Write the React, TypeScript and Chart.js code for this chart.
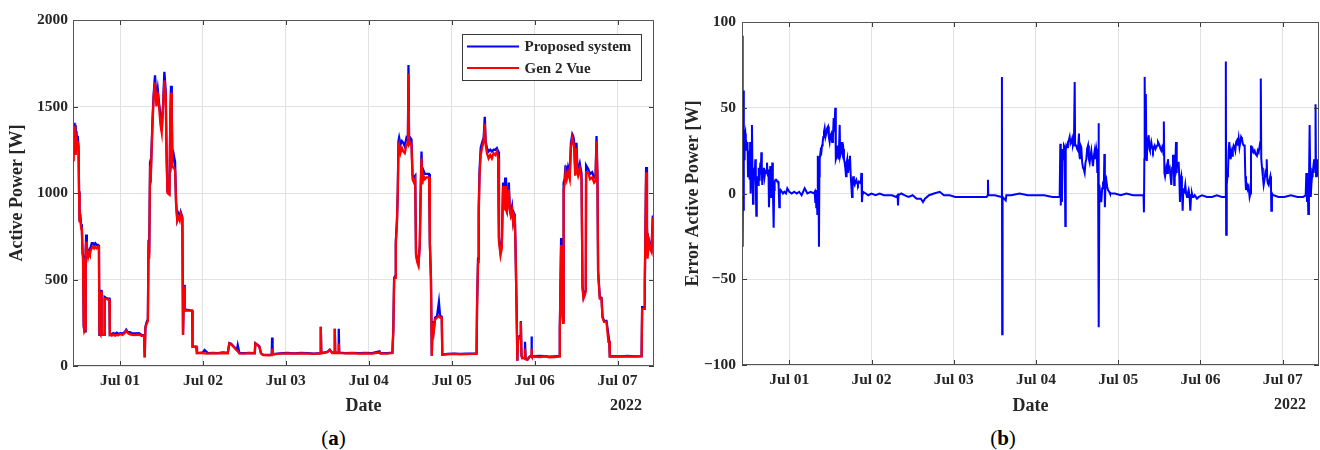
import React, { useEffect, useRef } from 'react';
import { Chart, registerables } from 'chart.js';

Chart.register(...registerables);

// ---------- data (x = days since Jul 01 00:00, 2022) ----------
const dayTickLabels = ['Jul 01', 'Jul 02', 'Jul 03', 'Jul 04', 'Jul 05', 'Jul 06', 'Jul 07'];
const yearLabel = '2022';
const powerTicks = [0, 500, 1000, 1500, 2000];
const errorTicks = [-100, -50, 0, 50, 100];
const seriesNames = ['Proposed system', 'Gen 2 Vue'];

const powerDays = [
  -0.567, -0.561, -0.556, -0.548, -0.540, -0.534, -0.526, -0.518, -0.510, -0.500,
  -0.494, -0.488, -0.480, -0.470, -0.460, -0.452, -0.446, -0.438, -0.430, -0.420,
  -0.414, -0.408, -0.400, -0.392, -0.384, -0.374, -0.364, -0.352, -0.340, -0.326,
  -0.312, -0.298, -0.282, -0.262, -0.254, -0.249, -0.236, -0.229, -0.222, -0.214,
  -0.192, -0.186, -0.170, -0.150, -0.128, -0.123, -0.100, -0.080, -0.060, -0.040,
  -0.020, 0.000, 0.030, 0.055, 0.075, 0.095, 0.120, 0.150, 0.190, 0.230,
  0.260, 0.290, 0.298, 0.306, 0.318, 0.336, 0.344, 0.352, 0.362, 0.372,
  0.382, 0.394, 0.406, 0.422, 0.439, 0.455, 0.471, 0.487, 0.503, 0.519,
  0.535, 0.551, 0.562, 0.572, 0.596, 0.606, 0.615, 0.624, 0.632, 0.648,
  0.664, 0.676, 0.690, 0.704, 0.720, 0.732, 0.752, 0.760, 0.772, 0.780,
  0.800, 0.870, 0.875, 0.920, 0.928, 1.000, 1.020, 1.060, 1.120, 1.180,
  1.240, 1.300, 1.318, 1.340, 1.372, 1.410, 1.420, 1.440, 1.500, 1.560,
  1.625, 1.632, 1.680, 1.700, 1.725, 1.780, 1.830, 1.834, 1.840, 1.900,
  1.960, 2.020, 2.100, 2.180, 2.260, 2.340, 2.415, 2.421, 2.428, 2.500,
  2.530, 2.560, 2.586, 2.590, 2.596, 2.634, 2.638, 2.644, 2.720, 2.800,
  2.880, 2.960, 3.040, 3.130, 3.140, 3.220, 3.285, 3.296, 3.306, 3.318,
  3.326, 3.340, 3.350, 3.358, 3.366, 3.382, 3.400, 3.416, 3.434, 3.455,
  3.472, 3.479, 3.486, 3.500, 3.515, 3.528, 3.545, 3.560, 3.570, 3.585,
  3.599, 3.615, 3.626, 3.636, 3.646, 3.660, 3.676, 3.696, 3.727, 3.737,
  3.750, 3.760, 3.770, 3.784, 3.800, 3.824, 3.846, 3.860, 3.880, 3.887,
  3.950, 4.030, 4.100, 4.180, 4.260, 4.300, 4.306, 4.318, 4.326, 4.336,
  4.350, 4.366, 4.386, 4.399, 4.410, 4.425, 4.445, 4.465, 4.485, 4.505,
  4.525, 4.545, 4.560, 4.570, 4.589, 4.604, 4.620, 4.632, 4.645, 4.655,
  4.665, 4.677, 4.689, 4.700, 4.713, 4.728, 4.741, 4.753, 4.761, 4.770,
  4.782, 4.792, 4.801, 4.815, 4.826, 4.834, 4.842, 4.850, 4.873, 4.884,
  4.892, 4.914, 4.942, 4.958, 4.962, 4.968, 5.000, 5.060, 5.120, 5.180,
  5.240, 5.298, 5.304, 5.312, 5.320, 5.330, 5.344, 5.350, 5.362, 5.373,
  5.388, 5.404, 5.424, 5.438, 5.455, 5.465, 5.476, 5.490, 5.505, 5.515,
  5.525, 5.545, 5.566, 5.578, 5.590, 5.605, 5.617, 5.621, 5.645, 5.669,
  5.694, 5.718, 5.735, 5.747, 5.758, 5.766, 5.786, 5.807, 5.819, 5.838,
  5.867, 5.890, 5.900, 5.907, 5.960, 6.040, 6.120, 6.200, 6.290, 6.297,
  6.321, 6.329, 6.345, 6.355, 6.362, 6.378, 6.393, 6.410, 6.426, 6.440,
];

const gen2VueW = [
  1190, 1300, 1390, 1330, 1350, 1220, 1330, 1260, 1300, 1240,
  1000, 830, 860, 800, 780, 650, 620, 240, 200, 210,
  650, 720, 620, 660, 630, 650, 640, 670, 680, 690,
  680, 690, 680, 690, 680, 190, 180, 430, 190, 180,
  180, 390, 390, 385, 380, 180, 175, 182, 175, 180,
  178, 185, 180, 190, 205, 190, 182, 180, 178, 182,
  175, 175, 50, 220, 240, 260, 700, 620, 1120, 1100,
  1260, 1420, 1560, 1640, 1500, 1580, 1500, 1400, 1350, 1500,
  1650, 1560, 1200, 1000, 990, 1400, 1580, 1450, 1150, 1150,
  1130, 940, 840, 860, 840, 880, 850, 180, 460, 320,
  320, 320, 110, 110, 75, 75, 73, 72, 74, 73,
  75, 74, 130, 125, 110, 90, 85, 73, 72, 74,
  73, 130, 112, 73, 63, 62, 63, 100, 66, 70,
  72, 73, 71, 73, 72, 70, 73, 227, 73, 80,
  92, 75, 75, 215, 75, 75, 130, 75, 73, 74,
  72, 73, 72, 78, 72, 72, 75, 200, 500, 510,
  700, 830, 1000, 1260, 1280, 1230, 1260, 1240, 1230, 1280,
  1280, 1690, 1280, 1290, 1280, 1080, 1060, 1080, 640, 600,
  580, 690, 1000, 1200, 1050, 1100, 1080, 1090, 1090, 700,
  500, 60, 250, 200, 270, 280, 290, 280, 280, 65,
  68, 70, 68, 69, 70, 70, 340, 600, 870, 1100,
  1220, 1260, 1300, 1400, 1280, 1230, 1200, 1220, 1200, 1230,
  1220, 1240, 1200, 720, 640, 680, 1040, 900, 1040, 900,
  890, 960, 1020, 900, 870, 900, 830, 870, 860, 680,
  350, 30, 160, 165, 160, 255, 60, 45, 45, 100,
  40, 36, 54, 60, 100, 54, 55, 52, 55, 50,
  52, 55, 200, 450, 700, 350, 250, 1020, 1050, 1120,
  1080, 1120, 1080, 1260, 1320, 1300, 1270, 1100, 1260, 1120,
  1100, 1140, 1080, 450, 390, 410, 430, 1120, 1120, 1080,
  1090, 1060, 1070, 1300, 1070, 540, 390, 390, 280, 255,
  255, 140, 140, 54, 55, 54, 56, 54, 55, 330,
  330, 470, 1120, 800, 620, 720, 680, 660, 860, 710,
];

const proposedW = [
  1240, 1320, 1400, 1400, 1390, 1250, 1360, 1300, 1330, 1270,
  1010, 840, 880, 820, 800, 660, 640, 230, 200, 200,
  680, 760, 640, 670, 650, 660, 660, 690, 710, 710,
  700, 710, 700, 700, 690, 180, 180, 440, 180, 180,
  180, 400, 395, 390, 390, 180, 185, 190, 185, 192,
  185, 190, 188, 195, 210, 195, 195, 188, 188, 190,
  180, 178, 50, 225, 250, 270, 730, 650, 1150, 1130,
  1280, 1450, 1570, 1680, 1540, 1600, 1520, 1450, 1360, 1510,
  1700, 1590, 1220, 1010, 1000, 1420, 1620, 1480, 1180, 1220,
  1180, 950, 850, 880, 860, 890, 860, 180, 470, 320,
  325, 320, 112, 112, 75, 78, 92, 75, 76, 75,
  78, 76, 132, 128, 112, 92, 120, 75, 74, 76,
  75, 132, 115, 75, 65, 64, 65, 165, 68, 72,
  74, 75, 73, 75, 74, 72, 75, 227, 75, 82,
  94, 77, 77, 215, 77, 77, 215, 77, 75, 76,
  74, 75, 74, 85, 74, 74, 77, 210, 510, 520,
  720, 840, 1010, 1300, 1320, 1280, 1300, 1290, 1270, 1320,
  1310, 1740, 1300, 1320, 1310, 1100, 1090, 1100, 650, 610,
  590, 700, 1010, 1240, 1070, 1130, 1110, 1110, 1110, 710,
  510, 60, 260, 210, 280, 290, 370, 290, 285, 66,
  70, 72, 70, 71, 72, 72, 350, 620, 920, 1130,
  1260, 1290, 1320, 1440, 1300, 1260, 1240, 1250, 1240, 1250,
  1250, 1260, 1240, 740, 660, 700, 1060, 920, 1090, 920,
  900, 1000, 1060, 920, 880, 920, 840, 880, 870, 690,
  360, 30, 165, 170, 160, 260, 60, 45, 45, 140,
  40, 38, 56, 60, 170, 56, 57, 58, 57, 54,
  56, 58, 210, 460, 740, 360, 260, 1060, 1080, 1160,
  1100, 1150, 1110, 1290, 1340, 1330, 1300, 1130, 1290, 1160,
  1130, 1170, 1110, 460, 400, 420, 440, 1160, 1140, 1110,
  1120, 1090, 1100, 1330, 1100, 550, 400, 395, 285, 260,
  260, 180, 145, 56, 57, 56, 58, 56, 57, 340,
  340, 480, 1150, 820, 640, 730, 700, 680, 870, 720,
];

const errorDays = [
  -0.586, -0.582, -0.578, -0.575, -0.571, -0.567, -0.563, -0.559, -0.555, -0.551,
  -0.547, -0.543, -0.535, -0.529, -0.523, -0.515, -0.508, -0.502, -0.495, -0.488,
  -0.482, -0.476, -0.470, -0.462, -0.454, -0.448, -0.441, -0.435, -0.429, -0.421,
  -0.413, -0.407, -0.401, -0.395, -0.389, -0.380, -0.372, -0.366, -0.360, -0.352,
  -0.346, -0.340, -0.334, -0.328, -0.318, -0.308, -0.300, -0.292, -0.282, -0.271,
  -0.265, -0.259, -0.253, -0.247, -0.240, -0.231, -0.225, -0.219, -0.213, -0.207,
  -0.200, -0.190, -0.184, -0.178, -0.168, -0.158, -0.148, -0.137, -0.130, -0.122,
  -0.115, -0.105, -0.090, -0.077, -0.060, -0.040, -0.024, 0.000, 0.030, 0.060,
  0.090, 0.120, 0.150, 0.187, 0.220, 0.260, 0.300, 0.310, 0.316, 0.322,
  0.328, 0.334, 0.341, 0.345, 0.349, 0.355, 0.361, 0.366, 0.370, 0.382,
  0.390, 0.398, 0.406, 0.414, 0.422, 0.430, 0.440, 0.450, 0.460, 0.471,
  0.481, 0.491, 0.501, 0.511, 0.521, 0.531, 0.540, 0.548, 0.559, 0.566,
  0.572, 0.584, 0.593, 0.601, 0.613, 0.619, 0.625, 0.633, 0.641, 0.649,
  0.657, 0.665, 0.673, 0.681, 0.690, 0.697, 0.705, 0.713, 0.722, 0.730,
  0.738, 0.746, 0.754, 0.763, 0.770, 0.778, 0.786, 0.795, 0.805, 0.815,
  0.825, 0.835, 0.848, 0.860, 0.870, 0.876, 0.884, 0.890, 0.896, 0.930,
  0.960, 1.000, 1.050, 1.100, 1.150, 1.200, 1.250, 1.300, 1.318, 1.322,
  1.328, 1.362, 1.400, 1.450, 1.500, 1.550, 1.600, 1.626, 1.650, 1.700,
  1.760, 1.829, 1.880, 1.950, 2.020, 2.100, 2.200, 2.300, 2.400, 2.412,
  2.416, 2.420, 2.500, 2.580, 2.586, 2.589, 2.594, 2.632, 2.640, 2.700,
  2.800, 2.900, 3.000, 3.100, 3.200, 3.288, 3.296, 3.302, 3.308, 3.316,
  3.324, 3.332, 3.340, 3.349, 3.357, 3.362, 3.369, 3.379, 3.389, 3.400,
  3.410, 3.420, 3.430, 3.440, 3.450, 3.462, 3.471, 3.476, 3.490, 3.500,
  3.511, 3.523, 3.529, 3.535, 3.543, 3.551, 3.562, 3.572, 3.582, 3.592,
  3.602, 3.612, 3.622, 3.633, 3.643, 3.653, 3.663, 3.673, 3.683, 3.693,
  3.704, 3.714, 3.724, 3.734, 3.740, 3.746, 3.755, 3.761, 3.765, 3.771,
  3.780, 3.794, 3.805, 3.815, 3.825, 3.832, 3.838, 3.846, 3.855, 3.866,
  3.876, 3.890, 3.900, 3.960, 4.030, 4.100, 4.180, 4.250, 4.308, 4.313,
  4.318, 4.322, 4.328, 4.336, 4.342, 4.348, 4.354, 4.362, 4.371, 4.379,
  4.386, 4.394, 4.402, 4.412, 4.423, 4.433, 4.443, 4.453, 4.463, 4.473,
  4.484, 4.494, 4.504, 4.514, 4.524, 4.535, 4.545, 4.553, 4.557, 4.562,
  4.570, 4.585, 4.595, 4.605, 4.615, 4.626, 4.636, 4.646, 4.656, 4.666,
  4.675, 4.681, 4.687, 4.695, 4.703, 4.709, 4.715, 4.725, 4.735, 4.743,
  4.751, 4.759, 4.767, 4.775, 4.784, 4.792, 4.800, 4.808, 4.816, 4.826,
  4.837, 4.847, 4.857, 4.867, 4.877, 4.887, 4.897, 4.907, 4.917, 4.930,
  4.958, 4.980, 5.020, 5.080, 5.140, 5.200, 5.260, 5.305, 5.309, 5.313,
  5.320, 5.328, 5.335, 5.343, 5.351, 5.360, 5.368, 5.376, 5.384, 5.394,
  5.404, 5.414, 5.424, 5.434, 5.445, 5.455, 5.465, 5.475, 5.485, 5.495,
  5.505, 5.515, 5.526, 5.538, 5.546, 5.554, 5.562, 5.570, 5.578, 5.586,
  5.598, 5.607, 5.615, 5.619, 5.627, 5.635, 5.645, 5.659, 5.670, 5.687,
  5.697, 5.708, 5.718, 5.728, 5.734, 5.740, 5.749, 5.759, 5.769, 5.779,
  5.789, 5.800, 5.806, 5.813, 5.820, 5.830, 5.840, 5.850, 5.858, 5.862,
  5.870, 5.880, 5.891, 5.950, 6.020, 6.100, 6.180, 6.250, 6.280, 6.288,
  6.296, 6.304, 6.312, 6.320, 6.328, 6.334, 6.342, 6.349, 6.357, 6.365,
  6.372, 6.378, 6.386, 6.394, 6.400, 6.406, 6.414, 6.422, 6.430, 6.440,
];

const errorW = [
  25, 80, -28, 85, -31, 92, -30, 60, -10, 30,
  20, 33, 35, 25, 30, 28, 30, 10, 25, 22,
  8, 30, 0, 20, 40, 15, -6, 5, 15, 10,
  20, 5, -13, 5, 10, 5, 15, 8, 10, 18,
  12, 24, 12, 5, 14, 15, 10, 13, 12, 18,
  12, 10, 14, -8, 5, 16, 8, -2, 5, 18,
  5, -20, 2, 7, 8, 8, 7, 7, 5, -8,
  0, 2, 1, 0, 1, 0, 3, 1, 0, 1,
  0, 1, -1, 3, 0, 1, 0, 1, -5, 2,
  -8, 0, -12, 20, 22, 10, -31, 10, 20, 25,
  24, 28, 30, 33, 36, 38, 33, 35, 38, 39,
  33, 30, 34, 35, 30, 33, 44, 36, 50, 20,
  21, 28, 22, 20, 40, 22, 22, 25, 30, 24,
  26, 20, 18, 15, 10, 18, 20, 12, 15, 18,
  22, 12, 5, -2, 6, 10, 6, 5, 7, 8,
  6, 5, 7, 7, 6, 12, -5, 0, 1, 0,
  -1, 0, -1, 0, -1, -1, -1, -2, -1, -7,
  -1, 0, -1, -2, -1, -3, -3, -5, -3, -1,
  0, 1, -1, -1, -2, -2, -2, -2, -2, -1,
  8, -1, -1, -2, 68, -82, -2, -4, -1, -1,
  0, -1, -1, -1, -2, -2, 29, -7, 20, -5,
  26, 20, 28, 27, -19, 25, 28, 27, 30, 31,
  33, 29, 30, 32, 28, 30, 65, 28, 28, 26,
  25, 35, 22, 20, 28, 27, 18, 15, 14, 12,
  18, 20, 26, 28, 20, 18, 22, 25, 20, 16,
  22, 25, 20, 26, 24, 12, 18, 41, -78, 5,
  0, -5, 3, 5, 4, 23, -8, 6, 8, 4,
  2, 1, 0, 0, -1, 0, -1, -1, -1, -11,
  20, 68, 30, 58, 25, 19, 30, 28, 34, 26,
  25, 28, 30, 27, 25, 27, 28, 26, 27, 28,
  30, 29, 28, 26, 25, 27, 25, 22, 42, 12,
  10, 15, 12, 20, 14, 15, 10, 5, 15, 22,
  22, 5, 20, 18, 30, 12, 15, 18, 18, 10,
  -5, 8, 10, 2, -10, 3, 0, 2, 5, 0,
  -2, 0, 2, -1, -10, -1, 0, -2, -2, -1,
  -3, -2, -1, -2, -2, -1, -2, -2, 77, -24,
  5, 10, 12, 25, 30, 22, 20, 24, 22, 26,
  28, 27, 25, 30, 31, 28, 32, 27, 30, 33,
  32, 29, 28, 28, 10, 2, 6, 5, 3, 4,
  -2, 0, 28, 27, 25, 26, 24, 25, 23, 22,
  25, 24, 27, 30, 67, 20, 15, 10, 5, 8,
  12, 10, 20, 8, 6, 5, 8, 10, 5, -10,
  0, -1, -1, -2, -2, -1, -2, -2, -1, 12,
  -5, 5, -12, 5, 40, 15, -2, 5, 10, 12,
  15, 12, 20, 15, 52, 10, 15, 20, 12, 10,
];

// ---------- styling ----------
const FONT = '"Liberation Serif", "Times New Roman", serif';
const INK = '#262626';
const GRID = '#e2e2e2';
const BLUE = '#0000ff';
const RED = '#ff0000';

const framePlugin = {
  id: 'frame',
  afterDraw(chart: any, _args: any, opts: any) {
    const { ctx, chartArea: a, scales } = chart;
    const xs = scales.x;
    const ys = scales.y;
    ctx.save();
    ctx.lineWidth = 1;
    ctx.strokeStyle = '#3a3a3a';
    ctx.beginPath();
    for (const t of xs.ticks) {
      const p = Math.round(xs.getPixelForValue(t.value)) + 0.5;
      ctx.moveTo(p, a.bottom);
      ctx.lineTo(p, a.bottom - 5);
      ctx.moveTo(p, a.top);
      ctx.lineTo(p, a.top + 5);
    }
    for (const t of ys.ticks) {
      const p = Math.round(ys.getPixelForValue(t.value)) + 0.5;
      ctx.moveTo(a.left, p);
      ctx.lineTo(a.left + 5, p);
      ctx.moveTo(a.right, p);
      ctx.lineTo(a.right - 5, p);
    }
    ctx.stroke();
    ctx.strokeStyle = '#555555';
    const l = Math.round(a.left) + 0.5;
    const t = Math.round(a.top) + 0.5;
    ctx.strokeRect(l, t, Math.round(a.right) - Math.round(a.left) - 1, Math.round(a.bottom) - Math.round(a.top) - 1);

    ctx.fillStyle = INK;
    ctx.font = `bold 16px ${FONT}`;
    ctx.textAlign = 'right';
    ctx.textBaseline = 'middle';
    ctx.fillText(yearLabel, a.right - opts.yearInset, a.bottom + 40);

    if (opts.legend) {
      const bw = 179;
      const bh = 46;
      const bx = Math.round(a.right - 13.5 - bw);
      const by = Math.round(a.top + 14);
      ctx.fillStyle = '#ffffff';
      ctx.fillRect(bx, by, bw, bh);
      ctx.strokeStyle = '#3a3a3a';
      ctx.strokeRect(bx + 0.5, by + 0.5, bw, bh);
      chart.data.datasets.forEach((ds: any, i: number) => {
        const y = by + 12.5 + i * 21.6;
        ctx.strokeStyle = ds.borderColor;
        ctx.lineWidth = 2;
        ctx.beginPath();
        ctx.moveTo(bx + 5, y);
        ctx.lineTo(bx + 57, y);
        ctx.stroke();
        ctx.fillStyle = INK;
        ctx.font = `bold 15px ${FONT}`;
        ctx.textAlign = 'left';
        ctx.textBaseline = 'middle';
        ctx.fillText(ds.label, bx + 62.5, y + 1);
      });
    }
    ctx.restore();
  },
};

const axisFont = (size: number) => ({ family: FONT, size, weight: 'bold' as const });
const fmtNum = (v: number) => (v < 0 ? '\u2212' + Math.abs(v) : String(v));

function baseOptions(o: any) {
  return {
    responsive: false,
    animation: false,
    devicePixelRatio: 1,
    layout: { padding: { left: 0, right: o.padRight, top: o.padTop, bottom: 0 } },
    plugins: {
      legend: { display: false },
      tooltip: { enabled: false },
      frame: { yearInset: o.yearInset, legend: o.legend },
    },
    elements: { point: { radius: 0 }, line: { borderWidth: o.lineWidth, tension: 0 } },
    scales: {
      x: {
        type: 'linear',
        min: o.xMin,
        max: o.xMax,
        ticks: {
          stepSize: 1,
          includeBounds: false,
          autoSkip: false,
          maxRotation: 0,
          padding: 6,
          color: INK,
          font: axisFont(15.5),
          callback: (v: number) => dayTickLabels[Math.round(v)] ?? '',
        },
        grid: { color: GRID, drawTicks: false, lineWidth: 1 },
        border: { display: false },
        title: { display: true, text: 'Date', color: INK, font: axisFont(18), padding: { top: 0, bottom: 3 } },
        afterFit: (s: any) => {
          s.height = o.xHeight;
        },
      },
      y: {
        type: 'linear',
        min: o.yTicks[0],
        max: o.yTicks[o.yTicks.length - 1],
        afterBuildTicks: (s: any) => {
          s.ticks = o.yTicks.map((v: number) => ({ value: v }));
        },
        ticks: { padding: o.yTickPad, color: INK, font: axisFont(15.5), callback: (v: number) => fmtNum(v) },
        grid: { color: GRID, drawTicks: false, lineWidth: 1 },
        border: { display: false },
        title: {
          display: true,
          text: o.yTitle,
          color: INK,
          font: axisFont(18),
          padding: { top: o.yTitlePad, bottom: 0 },
        },
        afterFit: (s: any) => {
          s.width = o.yWidth;
        },
      },
    },
  };
}

function buildPower() {
  return {
    type: 'line',
    data: {
      datasets: [
        {
          label: seriesNames[0],
          data: powerDays.map((d, i) => ({ x: d, y: proposedW[i] })),
          borderColor: BLUE,
          backgroundColor: BLUE,
          order: 1,
        },
        {
          label: seriesNames[1],
          data: powerDays.map((d, i) => ({ x: d, y: gen2VueW[i] })),
          borderColor: RED,
          backgroundColor: RED,
          order: 0,
        },
      ],
    },
    options: baseOptions({
      xMin: -0.567,
      xMax: 6.44,
      yTicks: powerTicks,
      yWidth: 73,
      yTickPad: 5,
      yTitle: 'Active Power [W]',
      yTitlePad: 7,
      padRight: 6,
      padTop: 20,
      xHeight: 54,
      yearInset: 12,
      legend: true,
      lineWidth: 2.3,
    }),
    plugins: [framePlugin],
  };
}

function buildError() {
  return {
    type: 'line',
    data: {
      datasets: [
        {
          label: 'Error',
          data: errorDays.map((d, i) => ({ x: d, y: errorW[i] })),
          borderColor: BLUE,
          backgroundColor: BLUE,
        },
      ],
    },
    options: baseOptions({
      xMin: -0.575,
      xMax: 6.442,
      yTicks: errorTicks,
      yWidth: 82,
      yTickPad: 6,
      yTitle: 'Error Active Power [W]',
      yTitlePad: 22.5,
      padRight: 1,
      padTop: 22,
      xHeight: 55,
      yearInset: 13,
      legend: false,
      lineWidth: 2,
    }),
    plugins: [framePlugin],
  };
}

function Panel({ build, left }: { build: () => any; left: number }) {
  const ref = useRef<HTMLCanvasElement>(null);
  useEffect(() => {
    const chart = new Chart(ref.current as HTMLCanvasElement, build());
    return () => chart.destroy();
  }, []);
  return (
    <canvas
      ref={ref}
      width={660}
      height={420}
      style={{ position: 'absolute', left, top: 0, width: 660, height: 420, display: 'block' }}
    />
  );
}

const captionStyle: React.CSSProperties = {
  position: 'absolute',
  top: 425,
  height: 26,
  lineHeight: '26px',
  fontFamily: FONT,
  fontSize: 21,
  color: '#000',
  textAlign: 'center',
};

export default function App() {
  return (
    <div style={{ position: 'absolute', left: 0, top: 0, width: 1320, height: 450, background: '#fff', overflow: 'hidden' }}>
      <Panel build={buildPower} left={0} />
      <Panel build={buildError} left={660} />
      <div style={{ ...captionStyle, left: 0, width: 667 }}>
        (<span style={{ fontWeight: 'bold' }}>a</span>)
      </div>
      <div style={{ ...captionStyle, left: 660, width: 686 }}>
        (<span style={{ fontWeight: 'bold' }}>b</span>)
      </div>
    </div>
  );
}
